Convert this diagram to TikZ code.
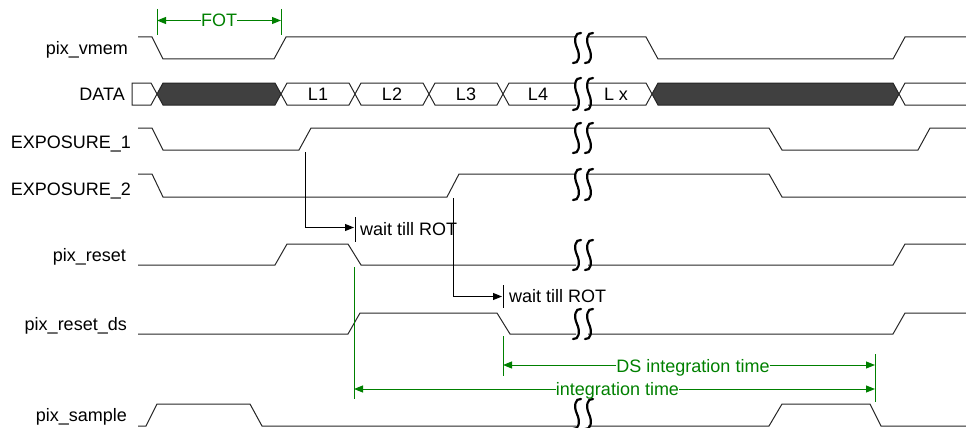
\documentclass[tikz,border=0pt]{standalone}
\usepackage{fontspec}
\setmainfont{Liberation Sans}
\usetikzlibrary{arrows.meta}
\definecolor{grn}{RGB}{0,128,0}
\definecolor{dk}{RGB}{64,64,64}
\newcommand\mysquig[3]{%
  \draw[squig] ({#1+4},#2) .. controls ({#1-2},{#2-1}) and ({#1-3.5},{#2+0.25*(#3-#2)}) .. (#1,{0.5*(#2+#3)})
     .. controls ({#1+3.5},{#2+0.75*(#3-#2)}) and ({#1+2},{#3+1}) .. ({#1-4},#3);}
\begin{document}
\begin{tikzpicture}[x=1pt,y=-1pt,
  sig/.style={draw=black!85,line width=1pt,line join=miter},
  dark/.style={sig,fill=dk},
  squig/.style={draw=black,line width=2.2pt,line cap=round},
  lbl/.style={anchor=base east,inner sep=0pt,font=\fontsize{18}{20}\selectfont},
  txt/.style={inner sep=0pt,font=\fontsize{18}{20}\selectfont},
  gtxt/.style={txt,text=grn},
  conn/.style={draw=black,line width=1pt},
  cArrow/.style={conn,-{Triangle[length=9pt,width=7pt]}},
  gline/.style={draw=grn,line width=1pt},
  gArrow/.style={gline,-{Triangle[length=9pt,width=7pt]}}]
\useasboundingbox (0,0) rectangle (966,428);

% labels
\node[lbl] (lvmem) at (128,54.5) {pix\_vmem};
\node[lbl] (ldata) at (125,100.5) {DATA};
\node[lbl] (lexp1) at (131,148) {EXPOSURE\_1};
\node[lbl] (lexp2) at (131,195) {EXPOSURE\_2};
\node[lbl] (lrst) at (126,261.5) {pix\_reset};
\node[lbl] (lrstds) at (127,330.5) {pix\_reset\_ds};
\node[lbl] (lsmp) at (127,421.5) {pix\_sample};

% pix_vmem
\draw[sig] (138,37) -- (152,37) -- (163,59) -- (274,59) -- (286,37) -- (576,37);
\draw[sig] (588,37) -- (646,37) -- (658,59) -- (893,59) -- (905,37) -- (966,37);

% DATA
\draw[sig] (151,83) -- (132,83) -- (132,105) -- (151,105) -- (157,94) -- cycle;
\draw[dark] (157,94) -- (163,83) -- (275,83) -- (281,94) -- (275,105) -- (163,105) -- cycle;
\draw[sig] (281,94) -- (287,83) -- (349,83) -- (355,94) -- (349,105) -- (287,105) -- cycle;
\draw[sig] (355,94) -- (361,83) -- (423,83) -- (429,94) -- (423,105) -- (361,105) -- cycle;
\draw[sig] (429,94) -- (435,83) -- (497,83) -- (503,94) -- (497,105) -- (435,105) -- cycle;
\draw[sig] (576,83) -- (509,83) -- (503,94) -- (509,105) -- (576,105);
\draw[sig] (588,83) -- (646,83) -- (652,94) -- (646,105) -- (588,105);
\draw[dark] (652,94) -- (658,83) -- (893,83) -- (899,94) -- (893,105) -- (658,105) -- cycle;
\draw[sig] (966,83) -- (905,83) -- (899,94) -- (905,105) -- (966,105);
\node[txt,anchor=base] (d1) at (318,100.5) {L1};
\node[txt,anchor=base] (d2) at (392,100.5) {L2};
\node[txt,anchor=base] (d3) at (466,100.5) {L3};
\node[txt,anchor=base] (d4) at (538,100.5) {L4};
\node[txt,anchor=base] (dx) at (616,100.5) {L x};

% EXPOSURE_1
\draw[sig] (138,128) -- (152,128) -- (163,150) -- (299,150) -- (311,128) -- (576,128);
\draw[sig] (588,128) -- (769,128) -- (782,150) -- (918,150) -- (930,128) -- (966,128);
% EXPOSURE_2
\draw[sig] (138,174) -- (152,174) -- (163,197) -- (447,197) -- (459,174) -- (576,174);
\draw[sig] (588,174) -- (769,174) -- (782,197) -- (966,197);
% pix_reset
\draw[sig] (138,265) -- (275,265) -- (287,244) -- (348,244) -- (361,265) -- (576,265);
\draw[sig] (588,265) -- (893,265) -- (905,244) -- (966,244);
% pix_reset_ds
\draw[sig] (138,334) -- (348,334) -- (360,313) -- (497,313) -- (510,334) -- (576,334);
\draw[sig] (588,334) -- (893,334) -- (905,313) -- (966,313);
% pix_sample
\draw[sig] (138,426) -- (146,426) -- (157,404) -- (250,404) -- (262,426) -- (576,426);
\draw[sig] (588,426) -- (769,426) -- (782,404) -- (870,404) -- (881,426) -- (966,426);

% breaks
\foreach \bx in {577,589}{
  \mysquig{\bx}{33}{63}
  \mysquig{\bx}{78}{110}
  \mysquig{\bx}{123}{153}
  \mysquig{\bx}{169}{200}
  \mysquig{\bx}{240}{270}
  \mysquig{\bx}{309}{339}
  \mysquig{\bx}{399}{429}
}

% wait till ROT arrows
\coordinate (w1a) at (305,152);
\coordinate (w1b) at (354,227.5);
\coordinate (t1a) at (355,217);
\coordinate (t1b) at (355,242);
\draw[cArrow] (w1a) |- (w1b);
\draw[conn] (t1a) -- (t1b);
\node[txt,anchor=base west] (wt1) at (360,235) {wait till ROT};

\coordinate (w2a) at (453,198);
\coordinate (w2b) at (502,296.5);
\coordinate (t2a) at (503,285);
\coordinate (t2b) at (503,308);
\draw[cArrow] (w2a) |- (w2b);
\draw[conn] (t2a) -- (t2b);
\node[txt,anchor=base west] (wt2) at (509,302) {wait till ROT};

% FOT
\coordinate (f1t) at (157,9);
\coordinate (f1b) at (157,35);
\coordinate (f2t) at (281,9);
\coordinate (f2b) at (281,35);
\coordinate (f1) at (157,20.5);
\coordinate (f2) at (281,20.5);
\draw[gline] (f1t) -- (f1b);
\draw[gline] (f2t) -- (f2b);
\node[gtxt,anchor=base] (fot) at (219,27) {FOT};
\draw[gArrow] (fot.west |- f1) -- (f1);
\draw[gArrow] (fot.east |- f2) -- (f2);

% DS integration time
\coordinate (ds1t) at (503,336);
\coordinate (ds1b) at (503,376);
\coordinate (ds2t) at (875,354);
\coordinate (ds2b) at (875,402);
\coordinate (ds1) at (503,365);
\coordinate (ds2) at (875,365);
\draw[gline] (ds1t) -- (ds1b);
\draw[gline] (ds2t) -- (ds2b);
\node[gtxt,anchor=base] (dst) at (693,372) {DS integration time};
\draw[gArrow] (dst.west |- ds1) -- (ds1);
\draw[gArrow] (dst.east |- ds2) -- (ds2);

% integration time
\coordinate (it1t) at (354,267);
\coordinate (it1b) at (354,399);
\coordinate (it1) at (354,389);
\coordinate (it2) at (875,389);
\draw[gline] (it1t) -- (it1b);
\node[gtxt,anchor=base] (itt) at (617.5,395) {integration time};
\draw[gArrow] (itt.west |- it1) -- (it1);
\draw[gArrow] (itt.east |- it2) -- (it2);
\end{tikzpicture}
\end{document}
